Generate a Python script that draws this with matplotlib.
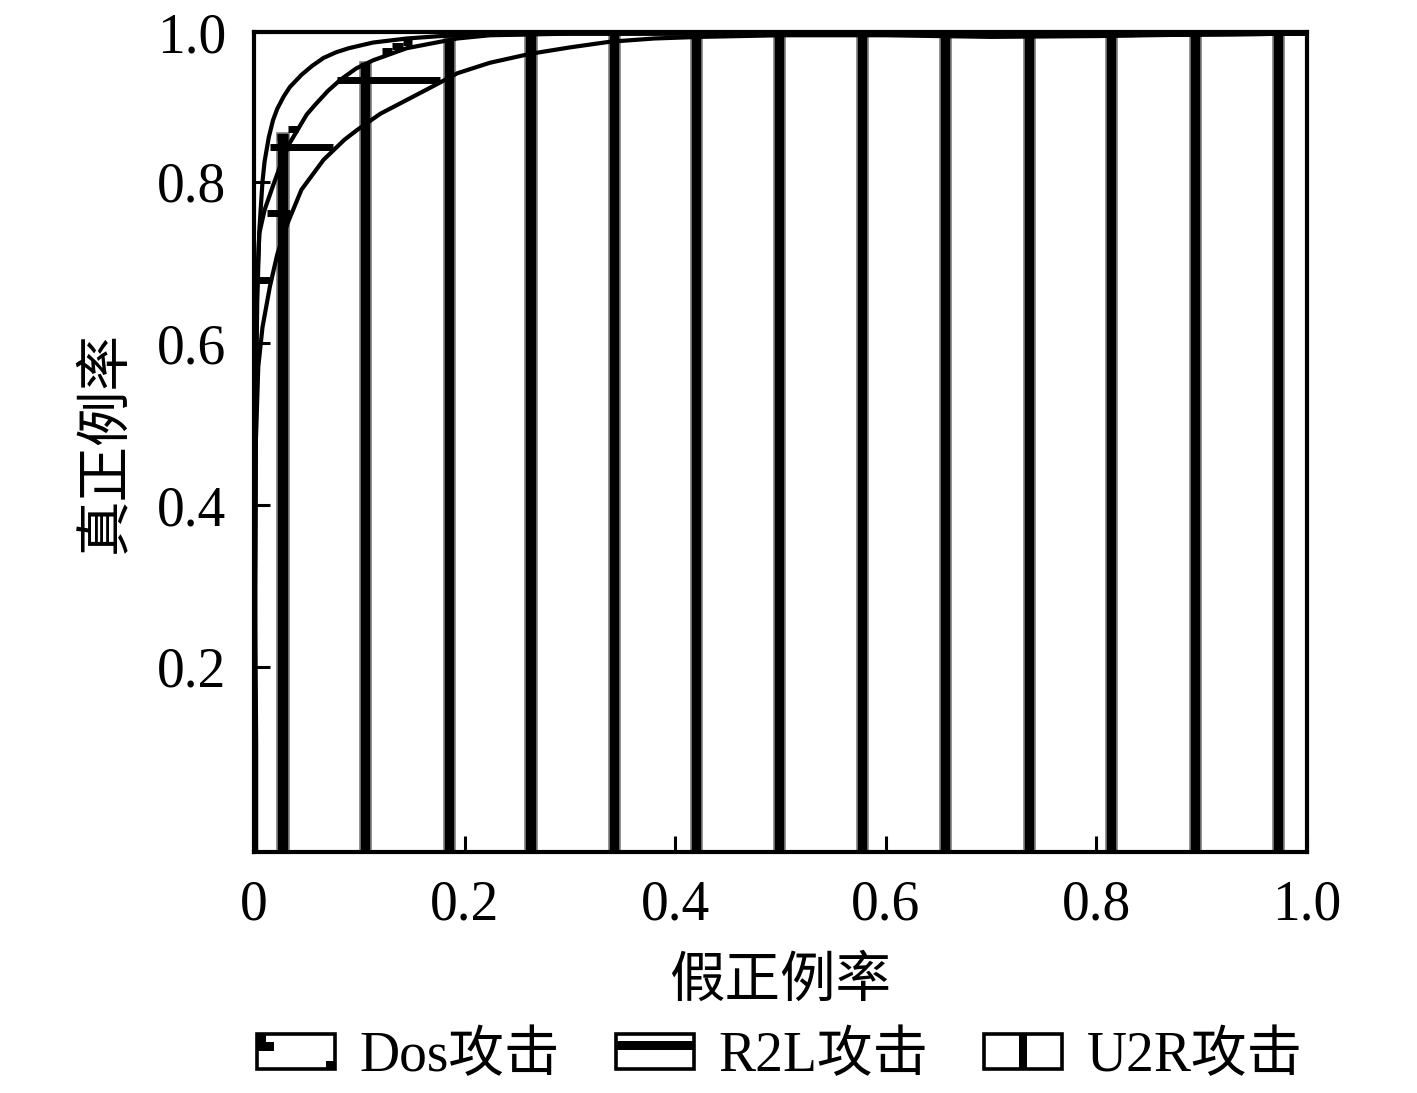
import matplotlib
matplotlib.use("Agg")
import matplotlib.pyplot as plt
from matplotlib.legend_handler import HandlerBase
from matplotlib.patches import Rectangle

plt.rcParams['font.family'] = ['Liberation Serif', 'Noto Sans CJK SC']

# ── DATA ──────────────────────────────────────────────────────────────────────

# smooth ROC curves
dos_fpr = [0.0, 0.0005, 0.001, 0.002, 0.003, 0.005, 0.008, 0.01, 0.014, 0.018,
           0.022, 0.028, 0.034, 0.045, 0.055, 0.066, 0.078, 0.09, 0.113, 0.145,
           0.177, 0.22, 0.3, 0.4, 0.5, 0.6, 0.7, 0.8, 0.9, 1.0]
dos_tpr = [-0.03, 0.1, 0.3, 0.55, 0.65, 0.74, 0.8, 0.825, 0.855, 0.876,
           0.89, 0.905, 0.917, 0.932, 0.943, 0.953, 0.96, 0.965, 0.972, 0.977,
           0.980, 0.982, 0.983, 0.983, 0.983, 0.982, 0.980, 0.981, 0.982, 0.983]

r2l_fpr = [0.0, 0.0005, 0.001, 0.0015, 0.002, 0.003, 0.005, 0.01, 0.018, 0.025,
           0.034, 0.05, 0.058, 0.07, 0.082, 0.097, 0.113, 0.145, 0.193, 0.224,
           0.3, 0.4, 0.5, 0.6, 0.7, 0.8, 0.9, 1.0]
r2l_tpr = [-0.03, 0.15, 0.3, 0.45, 0.6, 0.68, 0.736, 0.765, 0.795, 0.82,
           0.848, 0.883, 0.895, 0.912, 0.926, 0.94, 0.95, 0.965, 0.977, 0.981,
           0.983, 0.983, 0.983, 0.982, 0.980, 0.981, 0.982, 0.983]

u2r_fpr = [0.002, 0.002, 0.001, 0.001, 0.004, 0.008, 0.015, 0.022, 0.032, 0.045,
           0.066, 0.086, 0.098, 0.12, 0.145, 0.17, 0.193, 0.224, 0.262, 0.3,
           0.338, 0.38, 0.424, 0.5, 0.6, 0.7, 0.8, 0.9, 1.0]
u2r_tpr = [-0.03, 0.1, 0.3, 0.45, 0.571, 0.62, 0.67, 0.71, 0.749, 0.79,
           0.827, 0.852, 0.864, 0.884, 0.901, 0.918, 0.934, 0.947, 0.958, 0.966,
           0.973, 0.977, 0.979, 0.981, 0.981, 0.979, 0.980, 0.982, 0.983]

# vertical bars (U2R steps)
bar_x = [0.0275, 0.1054, 0.1852, 0.263, 0.342, 0.420, 0.499, 0.578, 0.657,
         0.736, 0.814, 0.894, 0.973]
bar_top = [0.86, 0.948, 0.978, 0.985, 0.985, 0.985, 0.985, 0.985, 0.985,
           0.985, 0.985, 0.985, 0.985]

# thick horizontal steps (R2L)
step_y = [0.843, 0.926, 0.761, 0.678]
step_x0 = [0.015, 0.079, 0.012, 0.003]
step_x1 = [0.075, 0.177, 0.034, 0.015]

# small step blocks (Dos)
blk_y = [0.855, 0.865, 0.962, 0.968, 0.973]
blk_x0 = [0.022, 0.032, 0.1216, 0.131, 0.1415]
blk_x1 = [0.032, 0.042, 0.131, 0.1415, 0.150]

y_lo, y_hi = -0.029, 0.985
xticks = [0, 0.2, 0.4, 0.6, 0.8, 1.0]
xtick_labels = ['0', '0.2', '0.4', '0.6', '0.8', '1.0']
yticks = [0.2, 0.4, 0.6, 0.8, y_hi]
ytick_labels = ['0.2', '0.4', '0.6', '0.8', '1.0']
legend_labels = ['Dos攻击', 'R2L攻击', 'U2R攻击']


class GlyphHandler(HandlerBase):
    """Draws the boxed legend glyphs of the reference."""

    def __init__(self, kind):
        super().__init__()
        self.kind = kind

    def create_artists(self, legend, orig_handle, xdescent, ydescent,
                       width, height, fontsize, trans):
        x0, y0 = -xdescent, -ydescent
        arts = [Rectangle((x0, y0), width, height, fill=False, lw=2.6,
                          ec='black', transform=trans)]
        s = height * 0.24
        if self.kind == 'dos':
            arts.append(Rectangle((x0, y0 + height - 2 * s), s, 2 * s,
                                  fc='black', ec='none', transform=trans))
            arts.append(Rectangle((x0 + s, y0 + height - 2 * s), s, s,
                                  fc='black', ec='none', transform=trans))
            arts.append(Rectangle((x0 + width - s, y0), s, s,
                                  fc='black', ec='none', transform=trans))
        elif self.kind == 'r2l':
            arts.append(Rectangle((x0, y0 + height * 0.55), width,
                                  height * 0.25, fc='black', ec='none',
                                  transform=trans))
        else:
            arts.append(Rectangle((x0 + width / 2 - s / 2, y0), s, height,
                                  fc='black', ec='none', transform=trans))
        return arts


fig = plt.figure(figsize=(14.17, 10.93), dpi=100)
ax = fig.add_axes([0.1793, 0.2205, 0.7431, 0.7502])

ax.bar(bar_x, [t - y_lo for t in bar_top], bottom=y_lo, width=0.0105,
       color='black', edgecolor='#808080', linewidth=1.2, zorder=2)
ax.hlines(step_y, step_x0, step_x1, color='black', linewidth=5, zorder=3)
ax.hlines(blk_y, blk_x0, blk_x1, color='black', linewidth=5, zorder=3)

h1, = ax.plot(dos_fpr, dos_tpr, color='black', linewidth=3, zorder=4,
              solid_joinstyle='round')
h2, = ax.plot(r2l_fpr, r2l_tpr, color='black', linewidth=3, zorder=4,
              solid_joinstyle='round')
h3, = ax.plot(u2r_fpr, u2r_tpr, color='black', linewidth=3, zorder=4,
              solid_joinstyle='round')

ax.set_xlim(0, 1)
ax.set_ylim(y_lo, y_hi)
ax.set_xticks(xticks)
ax.set_xticklabels(xtick_labels)
ax.set_yticks(yticks)
ax.set_yticklabels(ytick_labels)
ax.tick_params(axis='x', direction='in', length=11.5, width=2.2,
               labelsize=40, pad=20)
ax.tick_params(axis='y', direction='in', length=11.5, width=2.2,
               labelsize=40, pad=20)
for sp in ax.spines.values():
    sp.set_linewidth(3)

ax.set_xlabel('假正例率', fontsize=40, labelpad=18)
ax.set_ylabel('真正例率', fontsize=40, labelpad=18)

fig.legend([h1, h2, h3], legend_labels,
           handler_map={h1: GlyphHandler('dos'), h2: GlyphHandler('r2l'),
                        h3: GlyphHandler('u2r')},
           loc='center', bbox_to_anchor=(0.5505, 0.033), ncol=3,
           frameon=False, fontsize=40, handlelength=1.4, handleheight=0.6,
           handletextpad=0.45, columnspacing=1.0, borderpad=0)

fig.savefig('out.png', dpi=100)
